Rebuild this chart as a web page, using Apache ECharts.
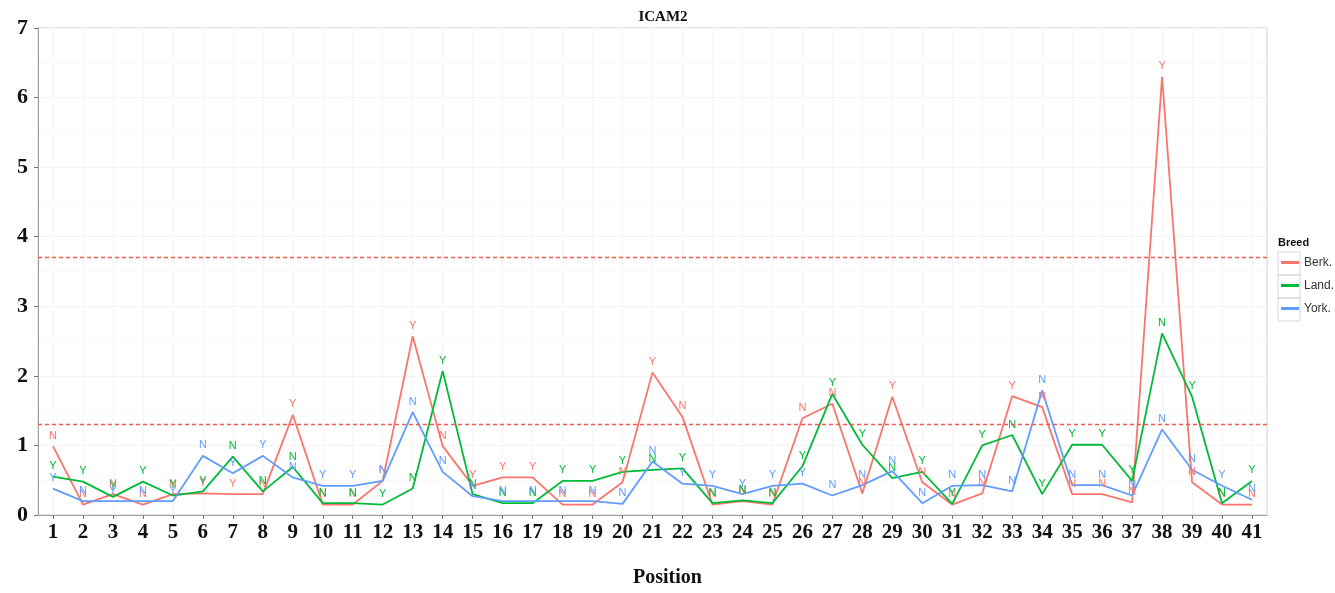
<!DOCTYPE html>
<html>
<head>
<meta charset="utf-8">
<script src="https://cdn.jsdelivr.net/npm/echarts@6/dist/echarts.min.js"></script>
<style>
html,body{margin:0;padding:0;background:#fff;}
#c{width:1335px;height:593px;}
</style>
</head>
<body>
<div id="c"></div>
<script>
const positions = ['1','2','3','4','5','6','7','8','9','10','11','12','13','14','15','16','17','18','19','20','21','22','23','24','25','26','27','28','29','30','31','32','33','34','35','36','37','38','39','40','41'];
const berk = [0.99,0.15,0.30,0.15,0.30,0.31,0.30,0.30,1.44,0.15,0.15,0.49,2.57,0.99,0.42,0.54,0.54,0.15,0.15,0.47,2.05,1.41,0.15,0.20,0.15,1.39,1.60,0.31,1.70,0.47,0.15,0.31,1.71,1.55,0.30,0.30,0.18,6.30,0.47,0.15,0.15];
const land = [0.55,0.48,0.26,0.48,0.28,0.34,0.84,0.34,0.69,0.17,0.17,0.15,0.38,2.07,0.30,0.17,0.17,0.49,0.49,0.62,0.65,0.67,0.17,0.21,0.17,0.70,1.74,1.01,0.53,0.62,0.16,1.00,1.15,0.30,1.01,1.01,0.49,2.61,1.70,0.17,0.49];
const york = [0.38,0.20,0.20,0.20,0.20,0.85,0.60,0.85,0.54,0.42,0.42,0.49,1.48,0.62,0.27,0.20,0.20,0.20,0.20,0.16,0.77,0.45,0.42,0.30,0.42,0.45,0.28,0.43,0.63,0.17,0.42,0.43,0.34,1.79,0.43,0.43,0.28,1.23,0.65,0.42,0.22];
const berkFlags = ['N','N','N','N','N','Y','Y','N','Y','N','N','N','Y','N','Y','Y','Y','N','N','N','Y','N','N','N','N','N','N','N','Y','N','N','N','Y','N','N','N','N','Y','N','N','N'];
const landFlags = ['Y','Y','Y','Y','Y','Y','N','N','N','N','N','Y','N','Y','N','N','N','Y','Y','Y','N','Y','N','N','N','Y','Y','Y','N','Y','Y','Y','N','Y','Y','Y','Y','N','Y','N','Y'];
const yorkFlags = ['Y','N','Y','N','Y','N','Y','Y','N','Y','Y','N','N','N','N','N','N','N','N','N','N','Y','Y','Y','Y','Y','N','N','N','N','N','N','N','N','N','N','N','N','N','Y','N'];
const thresholds = [3.7, 1.3];
const yTicks = [0,1,2,3,4,5,6,7];

const chart = echarts.init(document.getElementById('c'), null, {renderer:'canvas'});
const serif = '"Liberation Serif", "Times New Roman", serif';
const sans = '"Liberation Sans", Arial, sans-serif';
const colors = ['#F8766D','#00BA38','#619CFF'];

function mkSeries(name, data, flags, color, extra){
  return Object.assign({
    name: name,
    type: 'line',
    data: data,
    symbol: 'circle',
    symbolSize: 0,
    showSymbol: true,
    showAllSymbol: true,
    smooth: false,
    lineStyle: {color: color, width: 1.8},
    itemStyle: {color: color},
    label: {
      show: true,
      position: 'top',
      distance: 5,
      fontSize: 11,
      fontFamily: sans,
      color: color,
      formatter: function(p){ return flags[p.dataIndex]; }
    },
    labelLayout: {hideOverlap: false},
    emphasis: {disabled: true},
    animation: false
  }, extra || {});
}

const thresholdLines = thresholds.map(function(t){
  return {yAxis: t, lineStyle: {color: '#F25A50', type: [4,3], width: 1.4, opacity: 1}};
});

chart.setOption({
  animation: false,
  title: {
    text: 'ICAM2',
    left: 658,
    top: 5,
    textAlign: 'center',
    textStyle: {fontFamily: serif, fontWeight: 'bold', fontSize: 15, color: '#111'}
  },
  grid: {left: 38, right: 68, top: 28, bottom: 66, show: true, borderColor: '#d0d0d0', borderWidth: 1, backgroundColor: 'transparent'},
  legend: {
    orient: 'vertical',
    left: 1281,
    top: 251,
    padding: 0,
    itemGap: 0,
    itemWidth: 18,
    itemHeight: 3,
    icon: 'rect',
    textStyle: {fontFamily: sans, fontSize: 12, color: '#333', lineHeight: 23},
    data: ['Berk.','Land.','York.'],
    selectedMode: false
  },
  graphic: [
    {type:'text', left: 1278, top: 237, style:{text:'Breed', font:'bold 11px ' + sans, fill:'#111'}},
    {type:'rect', shape:{x:1278, y:252, width:22, height:23}, style:{fill:'none', stroke:'#d6d6d6', lineWidth:1}, z:-1},
    {type:'rect', shape:{x:1278, y:275, width:22, height:23}, style:{fill:'none', stroke:'#d6d6d6', lineWidth:1}, z:-1},
    {type:'rect', shape:{x:1278, y:298, width:22, height:23}, style:{fill:'none', stroke:'#d6d6d6', lineWidth:1}, z:-1}
  ],
  xAxis: {
    type: 'category',
    data: positions,
    boundaryGap: true,
    name: 'Position',
    nameLocation: 'middle',
    nameGap: 53,
    nameTextStyle: {fontFamily: serif, fontWeight: 'bold', fontSize: 20, color: '#111', padding: [0,0,0,30]},
    axisLine: {show: true, lineStyle: {color: '#a0a0a0', width: 1}},
    axisTick: {show: true, alignWithLabel: true, length: 4, lineStyle: {color: '#777'}},
    axisLabel: {interval: 0, margin: 7, fontFamily: serif, fontWeight: 'bold', fontSize: 21, color: '#111'},
    splitLine: {show: true, alignWithLabel: true, lineStyle: {color: '#f6f6f6', width: 1}}
  },
  yAxis: {
    type: 'value',
    min: 0,
    max: 7,
    interval: 1,
    axisLine: {show: true, lineStyle: {color: '#a0a0a0', width: 1}},
    axisTick: {show: true, length: 4, lineStyle: {color: '#777'}},
    minorTick: {show: true, splitNumber: 2, length: 0},
    minorSplitLine: {show: true, lineStyle: {color: '#fafafa', width: 1}},
    axisLabel: {margin: 10, fontFamily: serif, fontWeight: 'bold', fontSize: 22, color: '#111',
      formatter: function(v){ return yTicks.indexOf(v) >= 0 ? String(v) : ''; }},
    splitLine: {show: true, lineStyle: {color: '#f4f4f4', width: 1}}
  },
  series: [
    mkSeries('Berk.', berk, berkFlags, colors[0], {
      markLine: {
        silent: true,
        symbol: 'none',
        z: 10,
        label: {show: false},
        emphasis: {disabled: true},
        lineStyle: {color: '#F25A50', type: [4,3], width: 1.4, opacity: 1},
        data: thresholdLines
      }
    }),
    mkSeries('Land.', land, landFlags, colors[1]),
    mkSeries('York.', york, yorkFlags, colors[2])
  ]
});
</script>
</body>
</html>
